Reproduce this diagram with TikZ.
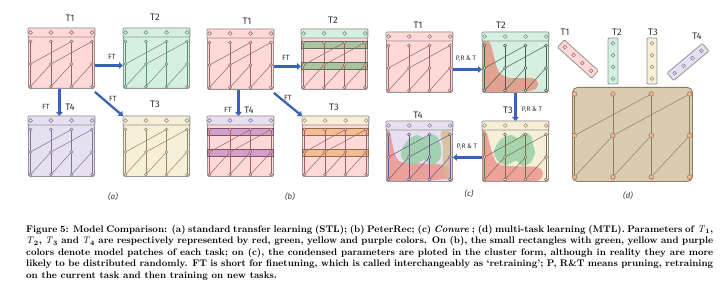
\documentclass[tikz,border=0pt]{standalone}
\usepackage{fontspec}
\newfontfamily\labelfont{Fira Sans}
\usetikzlibrary{arrows.meta,positioning,calc}

% colours of the four tasks
\definecolor{pinkfill}{HTML}{FFD8D8}
\definecolor{pinkline}{HTML}{9A6262}
\definecolor{greenfill}{HTML}{D5F0E1}
\definecolor{greenline}{HTML}{5C8F6E}
\definecolor{yellowfill}{HTML}{F7EFD8}
\definecolor{yellowline}{HTML}{938668}
\definecolor{purplefill}{HTML}{E6E0F0}
\definecolor{purpleline}{HTML}{7F719F}
\definecolor{greenband}{HTML}{8DBE8D}
\definecolor{purpleband}{HTML}{C78CC2}
\definecolor{orangeband}{HTML}{F2B37A}
\definecolor{redblob}{HTML}{EE9088}
\definecolor{greenblob}{HTML}{92CFA2}
\definecolor{tanblob}{HTML}{D6BC8C}
\definecolor{mtlfill}{HTML}{D9CCB0}
\definecolor{mtlline}{HTML}{8C7E62}
\definecolor{mtlnode}{HTML}{F2B895}
\definecolor{mtlnodeline}{HTML}{C08A68}
\definecolor{arrowblue}{HTML}{3B63B3}
\definecolor{labelgrey}{HTML}{333333}

\tikzset{
  taskframe/.style={draw=black!42, line width=0.9pt, rounded corners=1.5pt,
    minimum width=66pt, minimum height=60pt, inner sep=0pt, anchor=north west},
  headframe/.style={draw=black!42, line width=0.9pt, rounded corners=1pt},
  netline/.style={line width=0.5pt},
  band/.style={line width=0.5pt, fill opacity=0.75},
  blob/.style={fill opacity=0.8},
  strip/.style={draw=black!42, line width=0.8pt, rounded corners=1pt,
    minimum width=46pt, minimum height=10pt, inner sep=0pt},
  ftarrow/.style={-{Triangle[length=4pt,width=6.5pt]}, line width=2.3pt, draw=arrowblue},
  tasklabel/.style={text=labelgrey, inner sep=0pt, font=\labelfont\fontsize{9.5}{9.5}\selectfont},
  ftlabel/.style={text=labelgrey, inner sep=0pt, font=\labelfont\fontsize{7.5}{7.5}\selectfont},
  prtlabel/.style={text=labelgrey, inner sep=0pt, font=\labelfont\fontsize{6.5}{6.5}\selectfont},
  panellabel/.style={text=labelgrey, inner sep=0pt, font=\labelfont\itshape\fontsize{8}{8}\selectfont},
  capline/.style={anchor=base west, inner sep=0pt,
    font=\bfseries\fontsize{9.6}{11.5}\selectfont},
}

% network: x0, dx, y0, dy, line colour, node fill, node radius
\newcommand{\netgrid}[7]{%
  \foreach \c in {0,...,3}
    \draw[netline, draw=#5] ({#1+\c*#2},#3) -- ({#1+\c*#2},{#3+2*#4});
  \draw[netline, draw=#5] (#1,{#3+#4}) -- ({#1+2*#2},#3);
  \draw[netline, draw=#5] ({#1+#2},{#3+#4}) -- ({#1+3*#2},#3);
  \foreach \c in {0,1,2}
    \draw[netline, draw=#5] ({#1+\c*#2},{#3+2*#4}) -- ({#1+(\c+1)*#2},{#3+#4});
  \foreach \c in {0,...,3}
    \foreach \r in {0,1,2}
      \filldraw[netline, draw=#5, fill=#6] ({#1+\c*#2},{#3+\r*#4}) circle (#7);
}

% task box: name, top-left, header fill, body fill, line colour
\newcommand{\taskbox}[5]{%
  \node[taskframe, fill=#4] (#1) at (#2) {};
  \draw[headframe, fill=#3] (#1.north west) rectangle ([yshift=-9pt]#1.north east);
  \begin{scope}[shift={(#1.north west)}]
    \foreach \c in {0,...,3}
      \draw[netline, draw=#5] ({2.5+20.5*\c},4.5) circle (1.9pt);
  \end{scope}
}
\newcommand{\tasknet}[3]{%
  \begin{scope}[shift={(#1.north west)}]
    \netgrid{2.5}{20.5}{13.5}{22.5}{#2}{#3}{1.5pt}
  \end{scope}
}
\newcommand{\Tsub}[1]{\textnormal{\textit{T}}\textsubscript{#1}}

\begin{document}
\begin{tikzpicture}[x=1pt, y=-1pt]
\useasboundingbox (0,0) rectangle (720,294);

% ---- Panel (a): standard transfer learning
\taskbox{aT1}{28,28}{pinkfill}{pinkfill}{pinkline}
\tasknet{aT1}{pinkline}{pinkfill}
\taskbox{aT2}{123,28}{greenfill}{greenfill}{greenline}
\tasknet{aT2}{greenline}{greenfill}
\taskbox{aT4}{28,116}{purplefill}{purplefill}{purpleline}
\tasknet{aT4}{purpleline}{purplefill}
\taskbox{aT3}{123,116}{yellowfill}{yellowfill}{yellowline}
\tasknet{aT3}{yellowline}{yellowfill}

\node[tasklabel] (aL1) at (70,18) {T1};
\node[tasklabel] (aL2) at (155,17) {T2};
\node[tasklabel] (aL4) at (70,107) {T4};
\node[tasklabel] (aL3) at (155,104) {T3};

\draw[ftarrow] ([yshift=-7pt]aT1.east) -- ([yshift=-7pt]aT2.west);
\draw[ftarrow] ([xshift=-2pt]aT1.south) -- ([xshift=-2pt]aT4.north);
\draw[ftarrow] ([yshift=-3pt]aT1.south east) -- (aT3.north west);
\node[ftlabel] (aF2) at (112,57) {FT};
\node[ftlabel] (aF4) at (46,107) {FT};
\node[ftlabel] (aF3) at (113,99) {FT};
\node[panellabel] (aCap) at (113,197) {(a)};

% ---- Panel (b): PeterRec, patches on the T1 body
\taskbox{bT1}{207,29}{pinkfill}{pinkfill}{pinkline}
\tasknet{bT1}{pinkline}{pinkfill}
\taskbox{bT2}{301,29}{greenfill}{pinkfill}{greenline}
\taskbox{bT4}{207,116}{purplefill}{pinkfill}{purpleline}
\taskbox{bT3}{302,116}{yellowfill}{pinkfill}{yellowline}
\foreach \n/\col in {bT2/greenband, bT4/purpleband, bT3/orangeband} {
  \begin{scope}[shift={(\n.north west)}]
    \filldraw[band, fill=\col, draw=\col!60!black] (0,12) rectangle (66,19);
    \filldraw[band, fill=\col, draw=\col!60!black] (0,33) rectangle (66,40);
  \end{scope}
}
\tasknet{bT2}{pinkline}{pinkfill}
\tasknet{bT4}{pinkline}{pinkfill}
\tasknet{bT3}{pinkline}{pinkfill}

\node[tasklabel] (bL1) at (247,21) {T1};
\node[tasklabel] (bL2) at (333,20) {T2};
\node[tasklabel] (bL4) at (249,110) {T4};
\node[tasklabel] (bL3) at (334,107) {T3};

\draw[ftarrow] ([yshift=-7pt]bT1.east) -- ([yshift=-7pt]bT2.west);
\draw[ftarrow] ([xshift=-2pt]bT1.south) -- ([xshift=-2pt]bT4.north);
\draw[ftarrow] ([yshift=-3pt]bT1.south east) -- (bT3.north west);
\node[ftlabel] (bF2) at (286,58) {FT};
\node[ftlabel] (bF4) at (228,110) {FT};
\node[ftlabel] (bF3) at (288,98) {FT};
\node[panellabel] (bCap) at (290,197) {(b)};

% ---- Panel (c): Conure, condensed parameters
\taskbox{cT1}{386,32}{pinkfill}{pinkfill}{pinkline}
\tasknet{cT1}{pinkline}{pinkfill}
\taskbox{cT2}{482,32}{greenfill}{greenfill}{greenline}
\taskbox{cT3}{482,121}{yellowfill}{yellowfill}{yellowline}
\taskbox{cT4}{386,121}{purplefill}{purplefill}{purpleline}

% red cluster in T2
\begin{scope}[shift={(cT2.north west)}]
  \clip (0.5,9.5) rectangle (65.5,59.5);
  \fill[blob, redblob!85!brown] plot[smooth cycle] coordinates
    {(0,10) (8,11) (12,25) (17,40) (28,46) (50,46) (56,51) (52,58) (30,60) (0,60)};
\end{scope}
% red and green clusters in T3
\begin{scope}[shift={(cT3.north west)}]
  \clip (0.5,9.5) rectangle (65.5,59.5);
  \fill[blob, redblob] plot[smooth cycle] coordinates
    {(0,11) (5,13) (9,28) (15,42) (28,45) (55,46) (61,52) (55,60) (25,61) (0,60)};
  \fill[blob, greenblob] plot[smooth cycle] coordinates
    {(13,27) (19,18) (29,14) (36,17) (42,12) (49,15) (51,24) (53,32) (48,42)
     (40,45) (34,40) (24,44) (16,40) (12,33)};
\end{scope}
% red, green and yellow clusters in T4
\begin{scope}[shift={(cT4.north west)}]
  \clip (0.5,9.5) rectangle (65.5,59.5);
  \fill[blob, redblob] plot[smooth cycle] coordinates
    {(0,11) (4,12) (8,30) (13,40) (25,42) (50,43) (62,46) (63,57) (30,60) (0,60)};
  \fill[blob, tanblob] plot[smooth cycle] coordinates
    {(55,12) (64,10) (66,55) (60,57) (57,40) (57,25)};
  \fill[blob, greenblob] plot[smooth cycle] coordinates
    {(16,28) (22,19) (31,14) (38,17) (45,13) (52,17) (55,28) (54,38) (46,44)
     (38,39) (28,44) (19,41) (15,35)};
\end{scope}
\tasknet{cT2}{greenline!70!black}{greenfill}
\tasknet{cT3}{yellowline!80!black}{yellowfill}
\tasknet{cT4}{purpleline!80!black}{purplefill}

\node[tasklabel] (cL1) at (418,25) {T1};
\node[tasklabel] (cL2) at (501,25) {T2};
\node[tasklabel] (cL3) at (508,110) {T3};
\node[tasklabel] (cL4) at (418,115) {T4};

\draw[ftarrow] ([yshift=-7pt]cT1.east) -- ([yshift=-7pt]cT2.west);
\draw[ftarrow] (cT2.south) -- (cT3.north);
\draw[ftarrow] ([yshift=-6pt]cT3.west) -- ([yshift=-6pt]cT4.east);
\node[prtlabel] (cP2) at (466,59) {P,R \& T};
\node[prtlabel] (cP3) at (532,110) {P,R \& T};
\node[prtlabel] (cP4) at (467,147) {P,R \& T};
\node[panellabel] (cCap) at (469,194) {(c)};

% ---- Panel (d): multi-task learning
\node[draw=mtlline, fill=mtlfill, line width=0.9pt, rounded corners=5pt,
  minimum width=120pt, minimum height=94pt, inner sep=0pt, anchor=north west]
  (dNet) at (572,87) {};
\netgrid{574.5}{38.4}{94}{41.5}{mtlline}{mtlnode}{2.3pt}
\foreach \c in {0,...,3}
  \foreach \r in {0,1,2}
    \draw[netline, draw=mtlnodeline] ({574.5+38.4*\c},{94+41.5*\r}) circle (2.3pt);

\node[strip, fill=pinkfill, rotate=-42] (dT1) at (578,59) {};
\node[strip, fill=greenfill, rotate=90] (dT2) at (613,61) {};
\node[strip, fill=yellowfill, rotate=90] (dT3) at (652,61) {};
\node[strip, fill=purplefill, rotate=40] (dT4) at (688,62) {};
\foreach \n/\col in {dT1/pinkline, dT2/greenline, dT3/yellowline, dT4/purpleline}
  \foreach \i in {0,...,3}
    \draw[netline, draw=\col] ($(\n.west)!{(\i+0.5)/4}!(\n.east)$) circle (1.9pt);

\node[tasklabel] (dL1) at (565,32) {T1};
\node[tasklabel] (dL2) at (617,32) {T2};
\node[tasklabel] (dL3) at (653,32) {T3};
\node[tasklabel] (dL4) at (697,36) {T4};
\node[panellabel] (dCap) at (628,196) {(d)};

% ---- Caption
\node[capline] (cap1) at (26,232) {\makebox[687pt][s]{Figure 5: Model Comparison: (a) standard transfer learning (STL); (b) PeterRec; (c) \textit{Conure} ; (d) multi-task learning (MTL). Parameters of \Tsub{1},}};
\node[capline] (cap2) at (26,243.5) {\makebox[687pt][s]{\Tsub{2}, \Tsub{3} and \Tsub{4} are respectively represented by red, green, yellow and purple colors. On (b), the small rectangles with green, yellow and purple}};
\node[capline] (cap3) at (26,255) {\makebox[687pt][s]{colors denote model patches of each task; on (c), the condensed parameters are ploted in the cluster form, although in reality they are more}};
\node[capline] (cap4) at (26,266.5) {\makebox[687pt][s]{likely to be distributed randomly. FT is short for finetuning, which is called interchangeably as ‘retraining’; P, R\&T means pruning, retraining}};
\node[capline] (cap5) at (26,278) {on the current task and then training on new tasks.};
\end{tikzpicture}
\end{document}
